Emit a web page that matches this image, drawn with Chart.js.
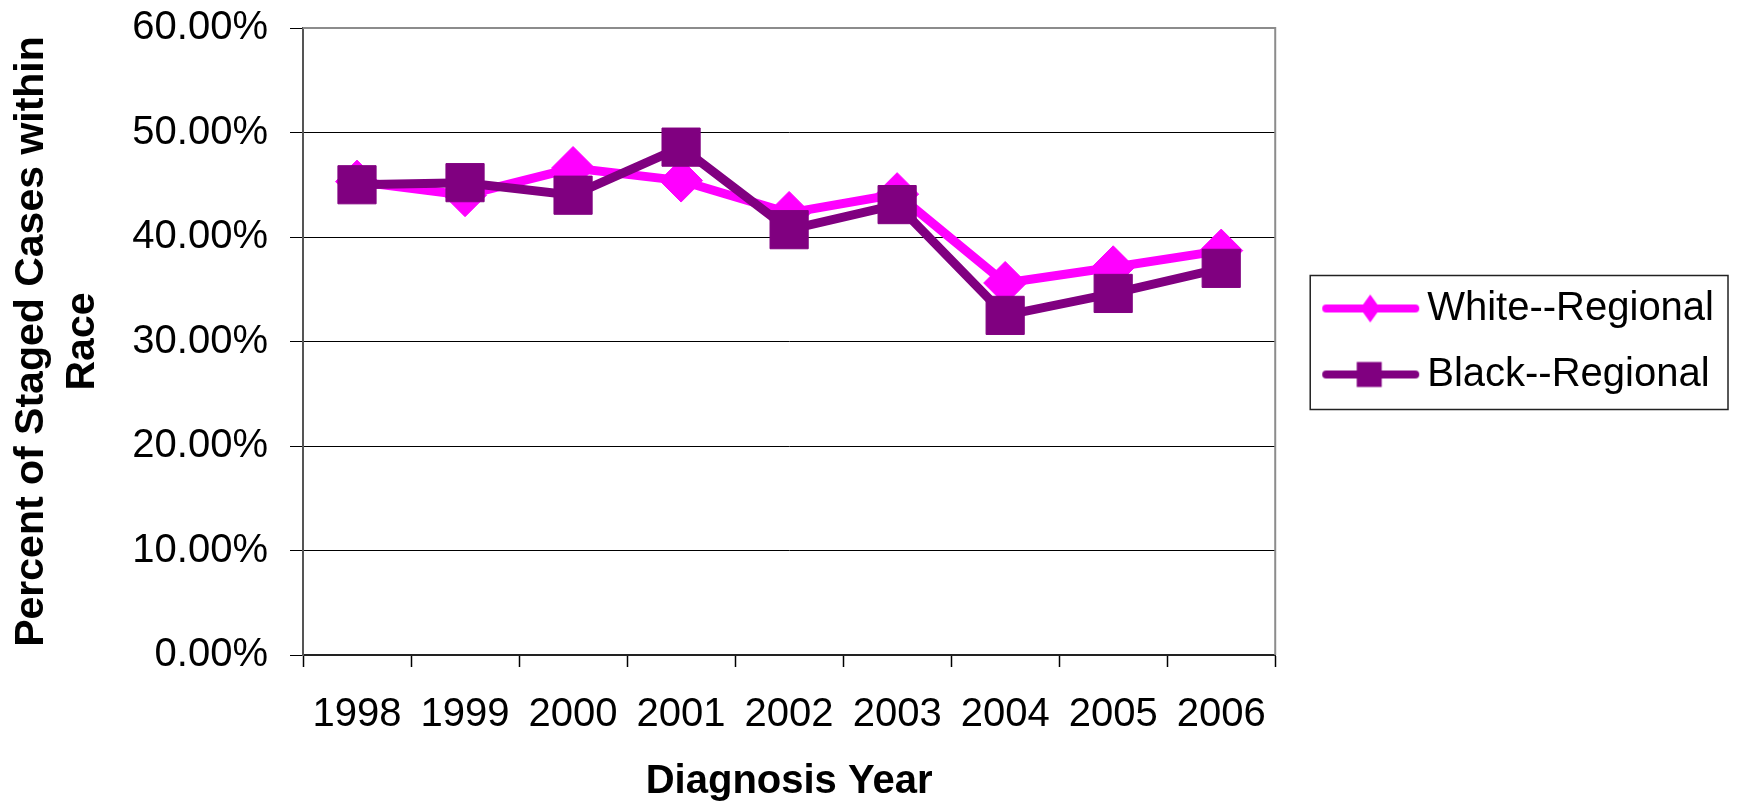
<!DOCTYPE html>
<html>
<head>
<meta charset="utf-8">
<script src="https://cdn.jsdelivr.net/npm/chart.js@4.4.1/dist/chart.umd.min.js"></script>
<style>
  html, body { margin: 0; padding: 0; background: #ffffff; }
  #wrap { width: 1740px; height: 810px; position: relative; }
</style>
</head>
<body>
<div id="wrap"><canvas id="c" width="1740" height="810"></canvas></div>
<script>
// ---- data ----
const years = ['1998', '1999', '2000', '2001', '2002', '2003', '2004', '2005', '2006'];
const whiteRegional = [45.3, 44.0, 46.6, 45.4, 42.3, 44.1, 35.6, 37.1, 38.7];
const blackRegional = [45.0, 45.2, 44.0, 48.6, 40.7, 43.1, 32.5, 34.6, 37.0];
const seriesNames = ['White--Regional', 'Black--Regional'];
const yTicksMin = 0, yTicksMax = 60, yTicksStep = 10;

const MAGENTA = '#FF00FF';
const PURPLE = '#800080';
const FONT = "'Liberation Sans', Arial, Helvetica, sans-serif";

// legend icons: line with marker in the middle
function makeIcon(color, shape) {
  const cv = document.createElement('canvas');
  cv.width = 140; cv.height = 40;
  const g = cv.getContext('2d');
  g.strokeStyle = color; g.fillStyle = color;
  g.lineWidth = 8; g.lineCap = 'round';
  g.beginPath(); g.moveTo(42, 20); g.lineTo(131, 20); g.stroke();
  g.beginPath();
  if (shape === 'diamond') {
    g.moveTo(86, 6); g.lineTo(96, 20); g.lineTo(86, 34); g.lineTo(76, 20); g.closePath();
  } else {
    g.rect(72.5, 7.5, 25, 25);
  }
  g.fill();
  return cv;
}
const legendIcons = [makeIcon(MAGENTA, 'diamond'), makeIcon(PURPLE, 'square')];

const framePlugin = {
  id: 'frame',
  beforeDatasetsDraw(chart) {
    const a = chart.chartArea, ctx = chart.ctx;
    ctx.save();
    ctx.strokeStyle = '#8c8c8c';
    ctx.lineWidth = 2;
    ctx.beginPath();
    ctx.moveTo(a.left, a.top);
    ctx.lineTo(a.right, a.top);
    ctx.lineTo(a.right, a.bottom);
    ctx.stroke();
    ctx.restore();
  },
  afterDraw(chart) {
    const lg = chart.legend;
    if (!lg || !lg.legendHitBoxes || lg.legendHitBoxes.length < 2) return;
    const h0 = lg.legendHitBoxes[0], h1 = lg.legendHitBoxes[1];
    const left = h0.left + 9;
    const top = h0.top - 13;
    const right = Math.max(h0.left + h0.width, h1.left + h1.width) + 14;
    const bottom = h1.top + h1.height + 15;
    const ctx = chart.ctx;
    ctx.save();
    ctx.strokeStyle = '#222';
    ctx.lineWidth = 1.5;
    ctx.strokeRect(left, top, right - left, bottom - top);
    ctx.restore();
  }
};

Chart.defaults.font.family = FONT;
Chart.defaults.color = '#000';

new Chart(document.getElementById('c'), {
  type: 'line',
  data: {
    labels: years,
    datasets: [
      {
        label: seriesNames[0],
        data: whiteRegional,
        borderColor: MAGENTA,
        backgroundColor: MAGENTA,
        borderWidth: 9,
        pointStyle: 'rectRot',
        pointRadius: 21.5,
        pointBorderWidth: 1,
        pointBackgroundColor: MAGENTA,
        pointBorderColor: MAGENTA,
        tension: 0,
        order: 1
      },
      {
        label: seriesNames[1],
        data: blackRegional,
        borderColor: PURPLE,
        backgroundColor: PURPLE,
        borderWidth: 9,
        pointStyle: 'rect',
        pointRadius: 27,
        pointBorderWidth: 1,
        pointBackgroundColor: PURPLE,
        pointBorderColor: PURPLE,
        tension: 0,
        order: 0
      }
    ]
  },
  options: {
    responsive: false,
    animation: false,
    devicePixelRatio: 1,
    layout: { padding: { top: 25, right: 16, bottom: 0, left: 0 } },
    plugins: {
      tooltip: { enabled: false },
      legend: {
        position: 'right',
        align: 'center',
        fullSize: false,
        maxWidth: 480,
        labels: {
          usePointStyle: true,
          pointStyleWidth: 106,
          padding: 26,
          color: '#000',
          font: { size: 40, family: FONT },
          generateLabels: (chart) => chart.data.datasets.map((ds, i) => ({
            text: ds.label,
            fillStyle: ds.borderColor,
            strokeStyle: ds.borderColor,
            lineWidth: 0,
            pointStyle: legendIcons[i],
            hidden: !chart.isDatasetVisible(i),
            datasetIndex: i,
            fontColor: '#000'
          }))
        }
      }
    },
    scales: {
      x: {
        type: 'category',
        offset: true,
        afterFit: (s) => { s.height = 155; },
        grid: {
          offset: true,
          drawOnChartArea: false,
          drawTicks: true,
          tickLength: 12,
          tickColor: '#000',
          tickWidth: 1.5
        },
        border: { display: true, color: '#222', width: 2 },
        ticks: {
          color: '#000',
          padding: 24,
          maxRotation: 0,
          autoSkip: false,
          font: { size: 40, family: FONT }
        },
        title: {
          display: true,
          text: 'Diagnosis Year',
          color: '#000',
          font: { size: 40, weight: 'bold', family: FONT },
          padding: { top: 0, bottom: 4 }
        }
      },
      y: {
        min: yTicksMin,
        max: yTicksMax,
        afterFit: (s) => { s.width = 303; s.paddingTop = 0; },
        grid: {
          color: '#000',
          lineWidth: 1,
          drawTicks: true,
          tickLength: 13,
          tickColor: '#000'
        },
        border: { display: true, color: '#555', width: 2 },
        ticks: {
          stepSize: yTicksStep,
          color: '#000',
          padding: 22,
          font: { size: 40, family: FONT },
          callback: (v) => Number(v).toFixed(2) + '%'
        },
        title: {
          display: true,
          text: ['Percent of Staged Cases within', 'Race'],
          color: '#000',
          font: { size: 41, weight: 'bold', family: FONT, lineHeight: 1.25 },
          padding: { top: 6, bottom: 0 }
        }
      }
    }
  },
  plugins: [framePlugin]
});
</script>
</body>
</html>
